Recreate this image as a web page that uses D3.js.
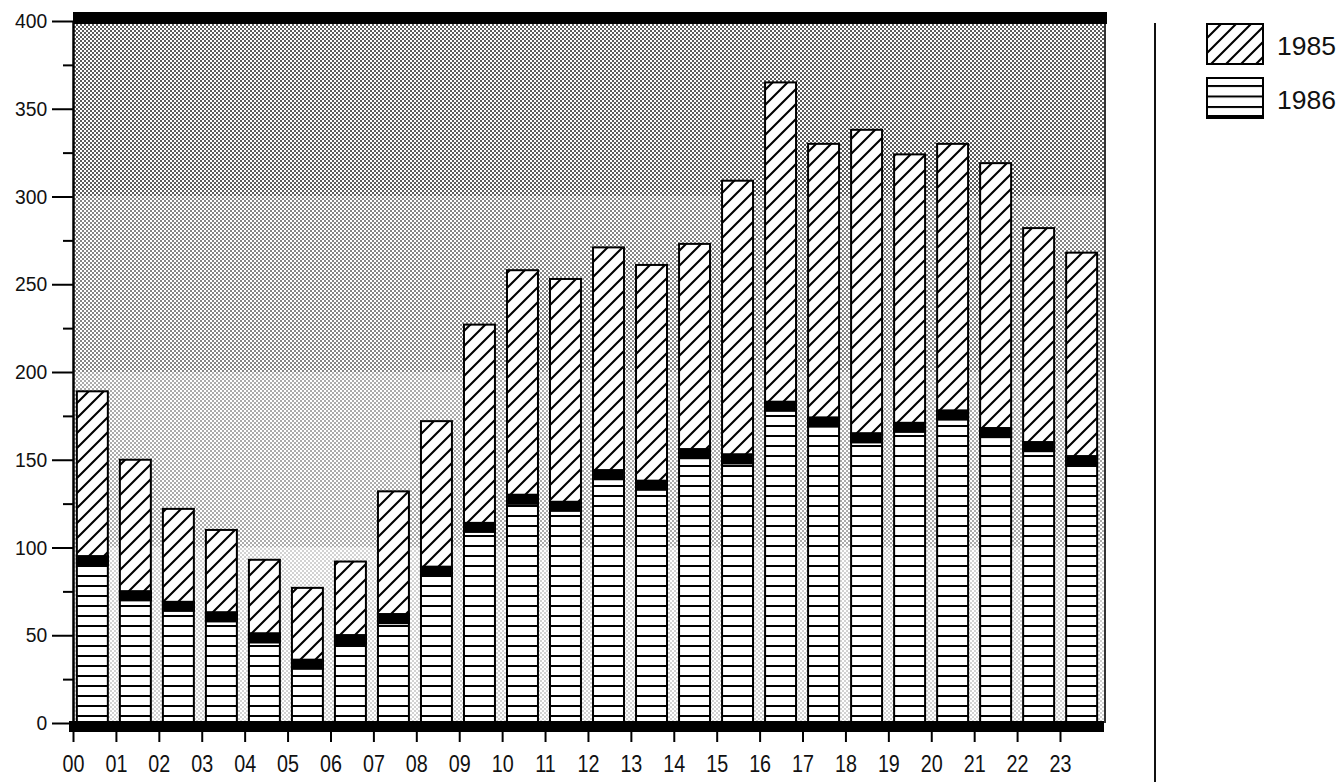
<!DOCTYPE html>
<html>
<head>
<meta charset="utf-8">
<script src="https://cdn.jsdelivr.net/npm/d3@7"></script>
<style>
  html, body { margin: 0; padding: 0; background: #fff; }
  svg { display: block; font-family: "Liberation Sans", Arial, Helvetica, sans-serif; }
</style>
</head>
<body>
<svg id="chart" width="1340" height="782"></svg>
<script>
// ---- data ----
const hours = ["00","01","02","03","04","05","06","07","08","09","10","11",
               "12","13","14","15","16","17","18","19","20","21","22","23"];
// 1986 segment (bottom, horizontal lines)
const values1986 = [95, 75, 69, 63, 51, 36, 50, 62, 89, 114, 130, 126,
                    144, 138, 156, 153, 183, 174, 165, 171, 178, 168, 160, 152];
// 1985 segment (stacked on top, diagonal hatch)
const values1985 = [94, 75, 53, 47, 42, 41, 42, 70, 83, 113, 128, 127,
                    127, 123, 117, 156, 182, 156, 173, 153, 152, 151, 122, 116];
const seriesKeys = ["1986", "1985"];
const yMajorTicks = [0, 50, 100, 150, 200, 250, 300, 350, 400];
const yMinorTicks = [25, 75, 125, 175, 225, 275, 325, 375];
const shadeBreaks = [0, 100, 200, 300, 400];
const shadeDots = ["#d2d2d2", "#ababab", "#858585", "#5e5e5e"];
const legendItems = ["1985", "1986"];

// ---- layout ----
const svg = d3.select("#chart");
const plotLeft = 73, plotRight = 1105;
const y = d3.scaleLinear().domain([0, 400]).range([723, 21]);
const x = d3.scaleBand().domain(hours).range([73, 1101]).paddingInner(0.28).paddingOuter(0.09);
const xTick = d3.scalePoint().domain(hours).range([73, 1060]);

const table = hours.map((h, i) => ({ hour: h, "1986": values1986[i], "1985": values1985[i] }));
const stacked = d3.stack().keys(seriesKeys)(table);

// ---- patterns ----
const defs = svg.append("defs");
shadeDots.forEach((c, i) => {
  const p = defs.append("pattern").attr("id", "dots" + i)
    .attr("patternUnits", "userSpaceOnUse").attr("width", 4).attr("height", 4);
  p.append("rect").attr("width", 4).attr("height", 4).attr("fill", "#fff");
  p.append("rect").attr("x", 0).attr("y", 0).attr("width", 2).attr("height", 2).attr("fill", c);
  p.append("rect").attr("x", 2).attr("y", 2).attr("width", 2).attr("height", 2).attr("fill", c);
});
const hatch = defs.append("pattern").attr("id", "hatch")
  .attr("patternUnits", "userSpaceOnUse").attr("width", 15).attr("height", 15);
hatch.append("rect").attr("width", 15).attr("height", 15).attr("fill", "#fff");
hatch.append("path").attr("d", "M-3,3 L3,-3 M0,15 L15,0 M12,18 L18,12")
  .attr("stroke", "#000").attr("stroke-width", 2.1);
const hl = defs.append("pattern").attr("id", "hlines")
  .attr("patternUnits", "userSpaceOnUse").attr("width", 8).attr("height", 10)
  .attr("y", y(0) - 8);
hl.append("rect").attr("width", 8).attr("height", 10).attr("fill", "#fff");
hl.append("rect").attr("width", 8).attr("height", 2).attr("fill", "#000");
const hlL = defs.append("pattern").attr("id", "hlinesLeg")
  .attr("patternUnits", "userSpaceOnUse").attr("width", 8).attr("height", 10.5)
  .attr("y", 86 - 1);
hlL.append("rect").attr("width", 8).attr("height", 10.5).attr("fill", "#fff");
hlL.append("rect").attr("width", 8).attr("height", 2).attr("fill", "#000");

// ---- background shading bands ----
svg.append("g").selectAll("rect")
  .data(d3.pairs(shadeBreaks))
  .join("rect")
  .attr("x", plotLeft)
  .attr("width", plotRight - plotLeft)
  .attr("y", d => y(d[1]))
  .attr("height", d => y(d[0]) - y(d[1]))
  .attr("fill", (d, i) => `url(#dots${i})`);

// ---- bars ----
const g86 = svg.append("g");
const g85 = svg.append("g");
g85.selectAll("rect")
  .data(stacked[1])
  .join("rect")
  .attr("x", d => x(d.data.hour))
  .attr("width", x.bandwidth())
  .attr("y", d => y(d[1]))
  .attr("height", d => y(d[0]) - y(d[1]))
  .attr("fill", "url(#hatch)")
  .attr("stroke", "#000").attr("stroke-width", 2);
g86.selectAll("rect.seg")
  .data(stacked[0])
  .join("rect").attr("class", "seg")
  .attr("x", d => x(d.data.hour))
  .attr("width", x.bandwidth())
  .attr("y", d => y(d[1]))
  .attr("height", d => y(d[0]) - y(d[1]))
  .attr("fill", "url(#hlines)")
  .attr("stroke", "#000").attr("stroke-width", 2);
svg.append("g").selectAll("rect")
  .data(stacked[0])
  .join("rect")
  .attr("x", d => x(d.data.hour) - 1)
  .attr("width", x.bandwidth() + 2)
  .attr("y", d => y(d[1]) - 1)
  .attr("height", 11)
  .attr("fill", "#000");

// ---- frame ----
svg.append("line").attr("x1", plotRight).attr("x2", plotRight)
  .attr("y1", y(400)).attr("y2", y(0))
  .attr("stroke", "#333").attr("stroke-width", 2);
svg.append("rect").attr("x", plotLeft).attr("y", y(400) - 9)
  .attr("width", plotRight - plotLeft + 2).attr("height", 12).attr("fill", "#000");
svg.append("rect").attr("x", plotLeft - 4).attr("y", y(0) - 2)
  .attr("width", plotRight - plotLeft + 3).attr("height", 11).attr("fill", "#000");

// ---- axes ----
const yAxis = svg.append("g").attr("transform", `translate(${plotLeft},0)`)
  .call(d3.axisLeft(y).tickValues(yMajorTicks).tickSize(21).tickPadding(7).tickSizeOuter(0));
yAxis.select(".domain").attr("stroke-width", 2.5);
yAxis.selectAll(".tick line").attr("stroke-width", 2);
yAxis.selectAll(".tick text")
  .attr("font-size", 21).attr("fill", "#111")
  .attr("font-family", "'Liberation Sans', Arial, sans-serif")
  .attr("transform", "scale(0.92,1)");
const yMinor = svg.append("g").attr("transform", `translate(${plotLeft},0)`)
  .call(d3.axisLeft(y).tickValues(yMinorTicks).tickSize(10).tickFormat(""));
yMinor.select(".domain").remove();
yMinor.selectAll(".tick line").attr("stroke-width", 2);

const xAxis = svg.append("g").attr("transform", `translate(0,${y(0)})`)
  .call(d3.axisBottom(xTick).tickSize(19).tickPadding(13));
xAxis.select(".domain").remove();
xAxis.selectAll(".tick line").attr("stroke-width", 2);
xAxis.selectAll(".tick text")
  .attr("font-size", 23.5).attr("fill", "#111")
  .attr("font-family", "'Liberation Sans', Arial, sans-serif")
  .attr("transform", "scale(0.84,1)");

// ---- separator & legend ----
svg.append("line").attr("x1", 1155).attr("x2", 1155).attr("y1", 23).attr("y2", 782)
  .attr("stroke", "#111").attr("stroke-width", 2);

const legend = svg.append("g");
const legY = d3.scalePoint().domain(legendItems).range([24, 78]);
legend.selectAll("rect.sw")
  .data(legendItems)
  .join("rect").attr("class", "sw")
  .attr("x", 1207).attr("width", 56)
  .attr("y", d => legY(d)).attr("height", 40)
  .attr("fill", d => d === "1985" ? "url(#hatch)" : "url(#hlinesLeg)")
  .attr("stroke", "#000").attr("stroke-width", 2);
legend.append("rect").attr("x", 1206).attr("width", 58)
  .attr("y", legY("1986") + 37).attr("height", 4).attr("fill", "#000");
legend.selectAll("text")
  .data(legendItems)
  .join("text")
  .attr("x", 1277)
  .attr("y", d => legY(d) + 31)
  .attr("font-size", 26.5)
  .attr("fill", "#111")
  .text(d => d);
</script>
</body>
</html>
